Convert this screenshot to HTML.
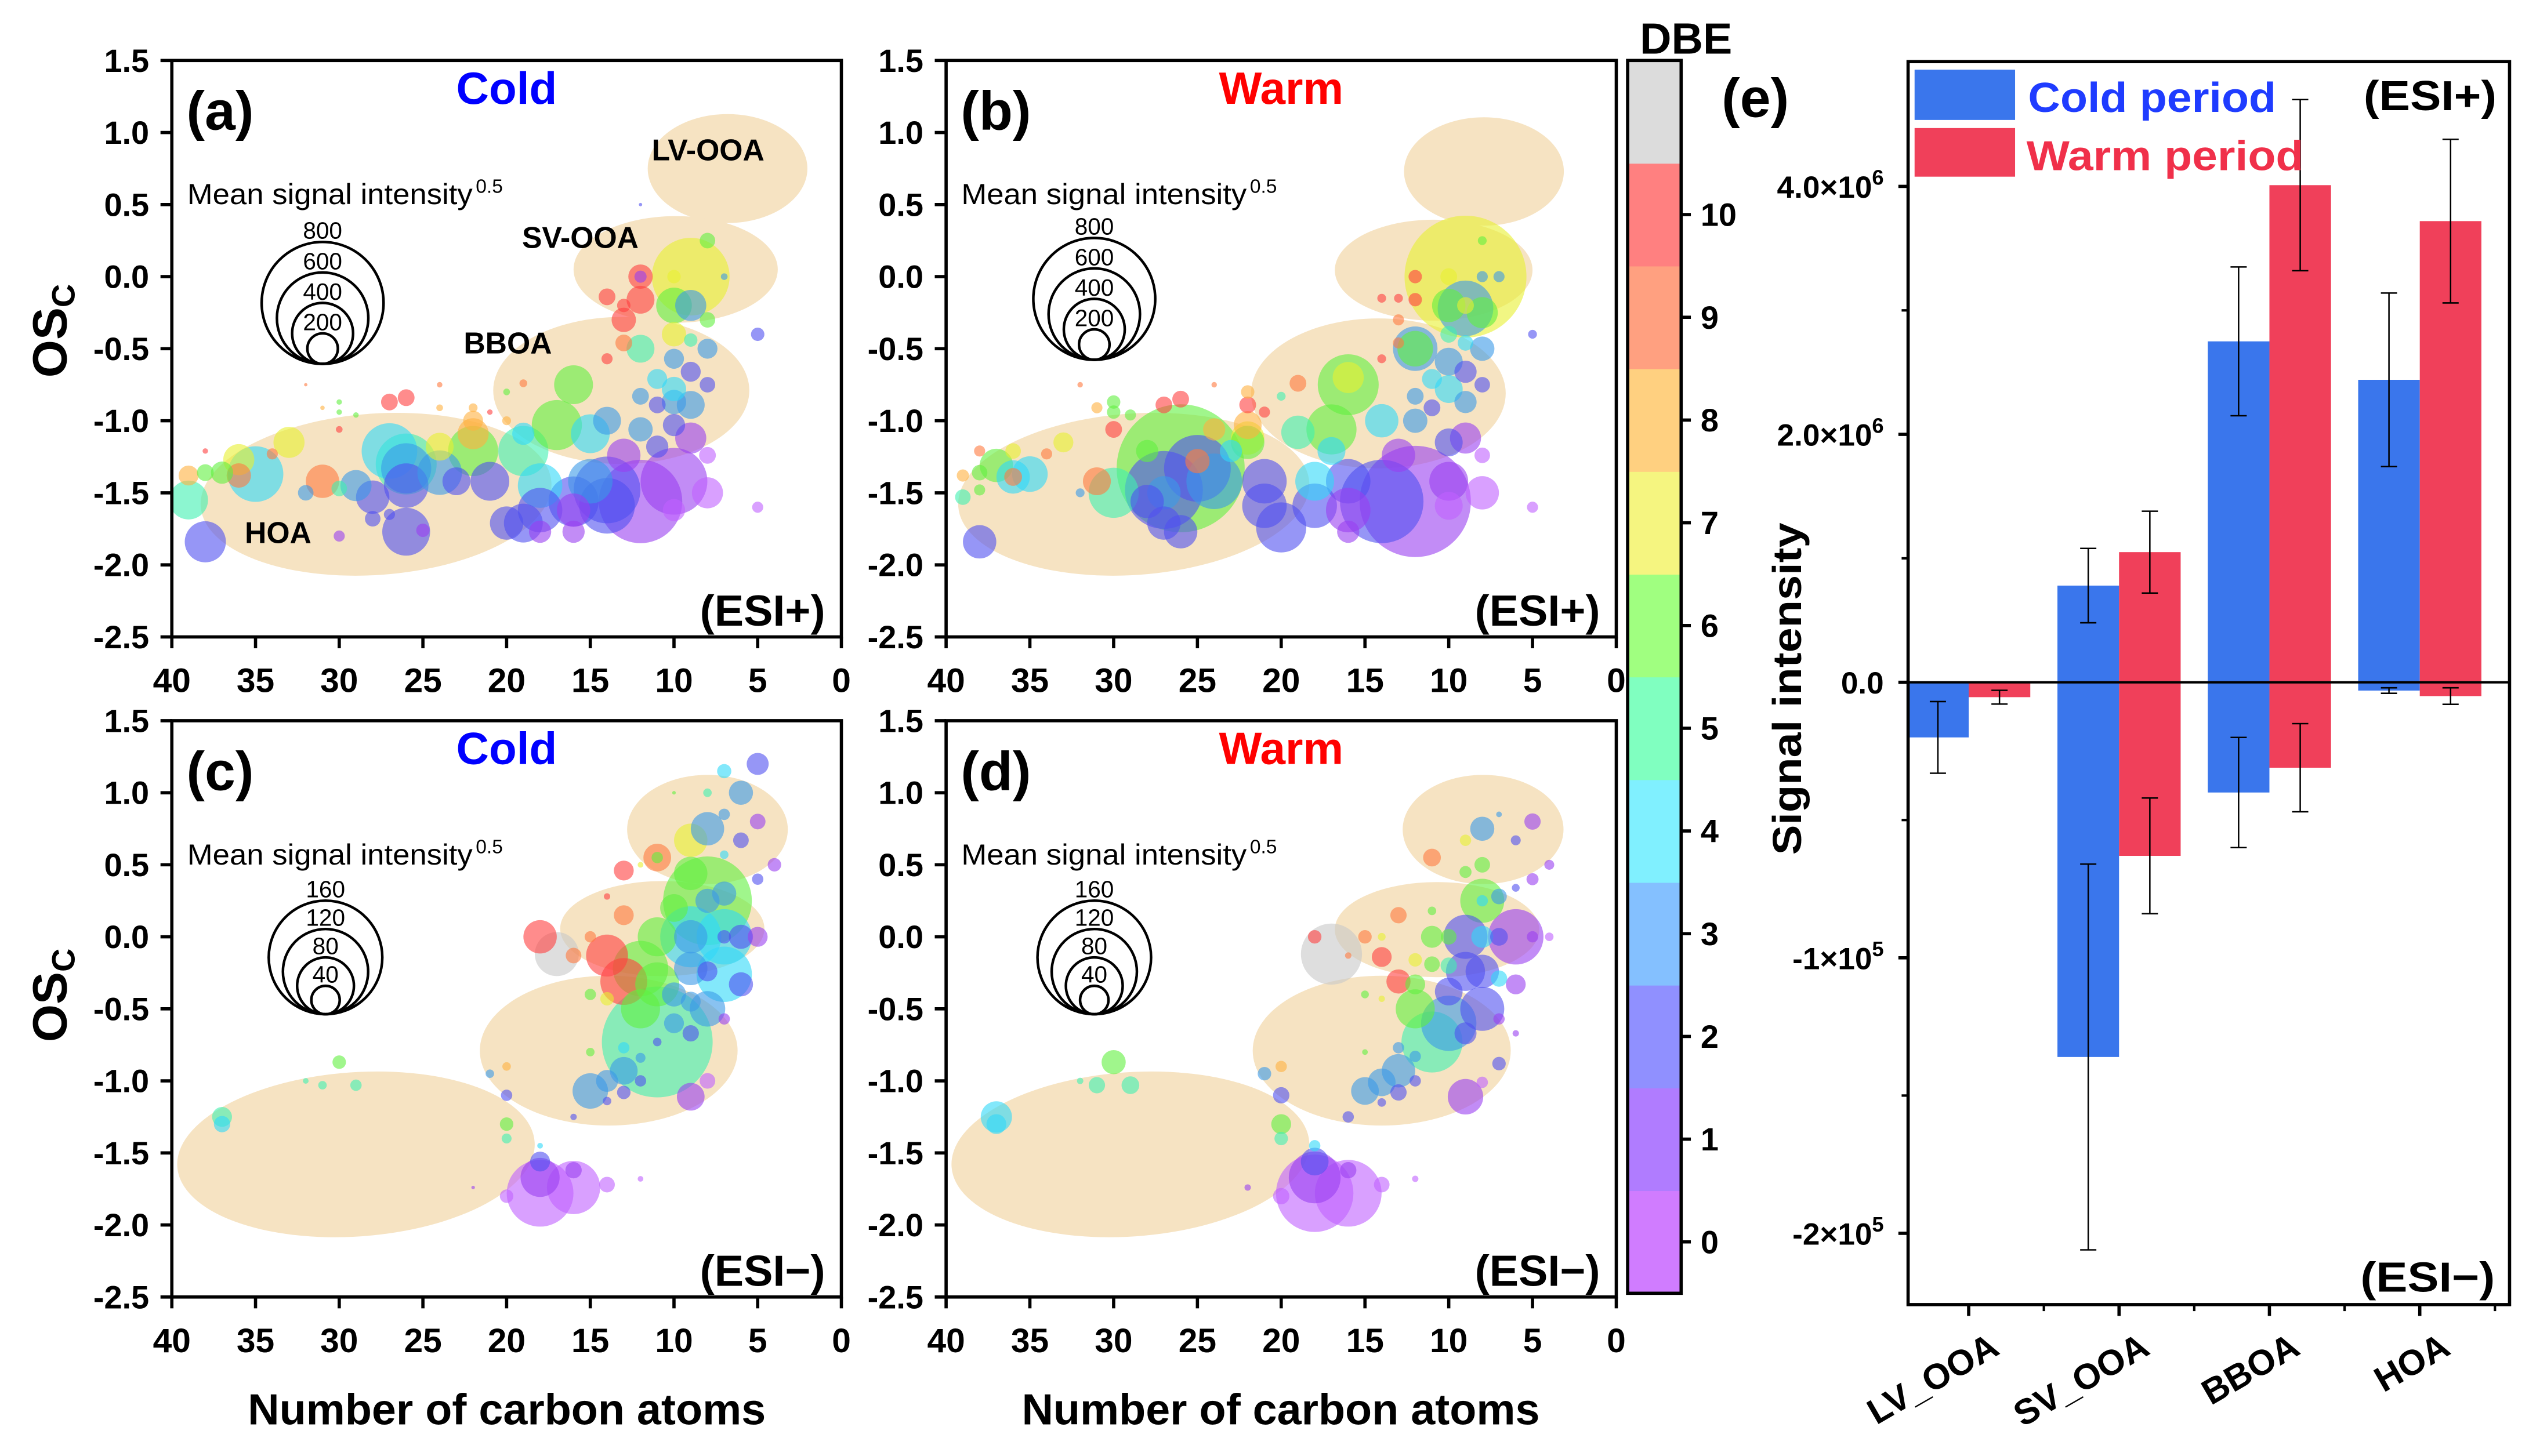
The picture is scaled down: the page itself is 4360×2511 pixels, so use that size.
<!DOCTYPE html>
<html><head><meta charset="utf-8"><title>OSc vs carbon number and factor signal intensity</title>
<style>
html,body{margin:0;padding:0;background:#fff;}
svg{display:block;font-family:"Liberation Sans",Arial,sans-serif;}
</style></head>
<body>
<svg id="fig" xmlns="http://www.w3.org/2000/svg" width="4360" height="2511" viewBox="0 0 1560 898.4">
<rect x="0" y="0" width="1560" height="898.4" fill="#fff"/>
<g id="layer"></g>
</svg>
<script>
// ---------- Panel (a) Cold ESI+ ----------
const aC  = [38,39,39,38,36,35,36,37,33,34,31,32,30,29,30,27,26,26,26,28,26,28,27,25,24,24,27,26,24,22,22,22,22,23,21,20,19,19,19,17,16,18,18,18,16,16,16,15,14,14,14,13,15,12,10,10,9,8,8,5,5,10,11,12,10,9,11,12,10,11,9,8,8,10,9,12,13,14,13,14,12,12,12,13,9,10,9,10,8,8,10,7,12,30,30,30,31,29,38,32,20,19,21,24,20];
const aOS = [-1.84,-1.55,-1.38,-1.36,-1.38,-1.37,-1.27,-1.36,-1.15,-1.23,-1.42,-1.5,-1.47,-1.45,-1.8,-1.21,-1.3,-1.33,-1.45,-1.53,-1.77,-1.68,-1.65,-1.76,-1.36,-1.18,-0.87,-0.84,-0.75,-0.91,-1.0,-1.09,-1.21,-1.42,-1.42,-1.71,-1.71,-1.09,-1.21,-1.03,-0.75,-1.45,-1.62,-1.77,-1.56,-1.62,-1.77,-1.42,-1.48,-1.59,-1.0,-1.24,-1.09,-1.56,-1.42,-1.62,-1.12,-1.5,-1.24,-0.4,-1.6,-1.03,-1.18,-1.06,-0.87,-0.89,-0.89,-0.83,-0.78,-0.71,-0.66,-0.75,-0.5,-0.57,-0.44,-0.5,-0.46,-0.57,-0.3,-0.14,-0.16,0.0,0.0,-0.2,0.0,-0.2,-0.2,-0.4,-0.3,0.25,0.0,0.0,0.5,-1.06,-0.94,-0.87,-0.91,-0.96,-1.21,-0.75,-0.8,-0.74,-0.94,-0.91,-1.0];
const aV  = [270,255,131,110,160,365,204,146,204,73,219,102,102,204,73,365,400,329,292,219,314,102,73,88,292,183,110,110,36,58,131,204,329,183,255,219,255,146,329,329,255,292,292,146,329,219,146,292,438,365,183,219,255,548,438,146,204,204,110,88,73,146,146,160,160,183,110,110,160,131,131,102,131,131,88,183,110,73,160,110,183,160,80,88,510,234,204,160,102,102,88,44,22,44,36,36,29,36,36,22,44,51,36,44,58];
const aD  = [2,5,8,6,9,4,7,6,7,9,9,3,5,3,1,4,5,3,2,2,2,2,2,1,3,7,10,10,9,8,8,8,6,2,2,2,2,4,5,6,6,4,2,1,2,1,1,3,2,2,3,1,4,1,1,0,1,0,0,2,0,2,2,3,3,3,2,3,4,4,2,2,3,3,5,5,9,10,10,10,10,10,1,10,7,6,3,7,6,6,7,3,2,10,6,6,8,6,10,9,6,9,10,8,8];
// ---------- Panel (b) Warm ESI+ ----------
const bC  = [38,39,39,38,38,38,37,36,35,36,36,34,33,31,32,30,26,27,25,28,27,28,27,26,24,25,27,26,24,22,22,22,21,24,22,22,23,21,21,20,19,18,18,17,16,16,19,17,16,16,16,14,14,13,12,12,11,12,10,10,10,9,8,8,5,5,11,10,9,8,10,9,8,12,12,13,14,13,12,13,14,12,9,9,10,8,9,10,9,10,8,7,8,30,30,30,31,29,32,20];
const bOS = [-1.84,-1.53,-1.38,-1.36,-1.48,-1.21,-1.31,-1.39,-1.37,-1.39,-1.21,-1.23,-1.15,-1.42,-1.5,-1.5,-1.33,-1.48,-1.33,-1.21,-1.5,-1.56,-1.71,-1.77,-1.42,-1.28,-0.89,-0.85,-1.06,-1.03,-0.89,-0.8,-0.94,-0.75,-1.12,-1.15,-1.21,-1.42,-1.59,-1.74,-1.08,-1.42,-1.59,-1.06,-0.75,-0.7,-0.74,-1.21,-1.42,-1.62,-1.77,-1.0,-1.56,-1.24,-1.56,-1.0,-0.91,-0.83,-1.15,-1.42,-1.59,-1.12,-1.5,-1.24,-0.4,-1.6,-0.71,-0.59,-0.66,-0.75,-0.78,-0.87,-0.5,-0.5,-0.5,-0.46,-0.57,-0.3,-0.16,-0.15,-0.15,0.0,0.0,-0.22,-0.2,-0.25,-0.2,-0.4,-0.46,0.0,0.0,0.0,0.25,-1.06,-0.87,-0.94,-0.91,-0.96,-0.75,-0.83];
const bV  = [219,102,80,102,73,73,219,219,234,117,102,73,131,183,58,329,840,511,438,146,219,219,219,219,365,160,110,110,146,183,110,88,73,36,219,219,146,292,292,329,219,255,292,329,400,204,110,183,292,292,146,219,548,219,730,160,110,110,183,255,183,204,219,102,58,73,131,183,146,102,183,146,160,292,234,73,58,73,88,58,58,88,800,365,219,204,110,110,102,110,73,73,58,110,88,88,73,73,36,58];
const bD  = [2,5,8,6,6,9,6,4,4,9,7,9,7,9,3,5,6,2,2,6,3,2,2,2,3,9,10,10,8,8,10,8,10,9,7,6,4,2,2,2,5,4,2,6,6,7,9,4,2,1,1,4,2,1,1,3,2,3,2,1,0,1,0,0,2,0,4,3,2,2,4,3,3,3,6,9,10,9,10,10,10,10,7,3,6,6,7,5,4,7,3,3,6,10,6,6,8,6,9,5];
// ---------- Panel (c) Cold ESI- ----------
const cC  = [37,37,30,32,31,29,20,21,20,20,20,18,16,18,18,16,14,20,12,22,18,18,17,16,14,13,13,13,11,11,9,8,6,7,5,8,10,7,5,6,7,4,5,11,8,9,10,11,12,11,12,9,7,7,9,9,8,8,7,6,5,7,6,10,9,8,10,9,7,13,14,15,13,12,12,11,13,8,9,14,16,15,15,14,15,14,12];
const cOS = [-1.25,-1.3,-0.87,-1.0,-1.03,-1.03,-0.9,-0.95,-1.1,-1.3,-1.4,-1.78,-1.74,-1.67,-1.56,-1.62,-1.72,-1.8,-1.68,-1.74,-1.45,0.0,-0.12,-0.13,-0.13,-0.31,0.15,0.46,0.55,0.55,0.67,0.75,1.0,1.15,1.2,1.0,1.0,0.85,0.8,0.67,0.57,0.5,0.4,-0.73,0.25,0.44,0.2,0.0,-0.22,-0.33,-0.5,0.0,0.0,-0.26,0.0,-0.22,-0.24,0.25,0.3,0.0,0.0,0.0,-0.33,-0.4,-0.45,-0.5,-0.6,-0.67,-0.57,-0.93,-1.0,-1.07,-1.08,-1.0,-0.84,-0.73,-0.77,-1.0,-1.11,-1.14,-1.25,-0.8,-0.4,-0.43,0.0,0.28,0.5];
const cV  = [28,23,19,8,12,16,12,12,16,19,14,94,75,55,28,23,22,19,8,5,8,47,62,22,59,66,28,28,39,16,47,47,34,20,31,12,5,16,22,22,12,19,16,156,125,47,39,55,78,62,55,86,78,78,47,47,28,34,34,34,28,19,34,34,28,50,28,23,16,39,31,50,19,16,14,12,16,22,39,12,9,12,16,19,16,9,8];
const cD  = [5,4,6,5,5,5,8,3,2,6,5,0,0,1,2,1,0,0,0,1,4,10,11,9,10,10,9,10,9,6,7,3,3,4,2,5,6,3,1,2,4,1,2,5,6,6,6,6,6,6,6,4,4,4,3,3,2,3,3,2,1,2,2,3,3,3,3,2,1,3,3,3,2,2,3,2,4,0,1,2,2,6,6,7,9,10,7];
// ---------- Panel (d) Warm ESI- ----------
const dC  = [37,37,30,32,31,29,20,21,20,20,20,18,16,18,18,16,14,20,12,22,18,17,18,16,15,14,13,13,11,8,5,6,7,9,8,9,5,4,6,8,7,8,6,9,11,10,8,7,5,4,9,8,10,7,6,10,8,12,10,11,9,7,6,13,14,15,13,12,12,13,14,16,7,8,9,15,14,12,11,12,15,14,11];
const dOS = [-1.25,-1.3,-0.87,-1.0,-1.03,-1.03,-0.9,-0.95,-1.1,-1.3,-1.4,-1.78,-1.78,-1.67,-1.56,-1.62,-1.72,-1.8,-1.68,-1.74,-1.45,-0.12,0.0,-0.13,0.0,-0.14,-0.31,0.15,0.55,0.75,0.8,0.67,0.85,0.67,0.5,0.45,0.4,0.5,0.34,0.25,0.28,0.25,0.0,0.0,0.0,0.0,0.0,0.0,0.0,0.0,-0.24,-0.24,-0.2,-0.29,-0.33,-0.38,-0.5,-0.5,-0.6,-0.73,-0.67,-0.57,-0.67,-0.93,-1.01,-1.07,-1.08,-1.0,-0.83,-0.77,-1.15,-1.25,-0.88,-1.01,-1.11,-0.4,-0.43,-0.16,-0.19,-0.33,-0.8,0.0,0.18];
const dV  = [44,28,34,9,23,25,16,19,23,28,19,109,94,73,39,23,22,23,9,9,16,86,19,9,19,28,34,23,25,34,23,14,8,16,22,17,17,14,11,62,22,16,78,62,31,22,31,25,16,12,55,47,23,23,28,39,62,55,78,86,31,16,9,47,39,39,23,16,16,16,12,16,19,16,50,11,9,19,22,28,8,11,12];
const dD  = [4,4,6,5,5,5,8,3,2,6,5,0,0,1,2,1,0,0,0,1,4,11,10,9,9,10,10,9,9,3,1,2,3,7,6,6,1,1,2,6,3,4,1,2,6,6,4,2,1,0,2,2,5,4,1,2,2,6,3,5,2,1,1,3,3,3,2,2,3,3,2,2,2,0,1,6,7,7,6,6,6,7,6];

// ---------- Panel (e) bar chart ----------
const eCats = ['LV_OOA','SV_OOA','BBOA','HOA'];
const coldPos = [0, 0.78e6, 2.75e6, 2.44e6];
const coldPosErr = [0, 0.30e6, 0.60e6, 0.70e6];
const warmPos = [0, 1.05e6, 4.01e6, 3.72e6];
const warmPosErr = [0, 0.33e6, 0.69e6, 0.66e6];
const coldNeg = [-0.20e5, -1.36e5, -0.40e5, -0.03e5];
const coldNegErr = [0.13e5, 0.70e5, 0.20e5, 0.01e5];
const warmNeg = [-0.054e5, -0.63e5, -0.31e5, -0.05e5];
const warmNegErr = [0.025e5, 0.21e5, 0.16e5, 0.03e5];
const posTicks = [0, 2e6, 4e6];
const posTickLabels = ['0.0','2.0\u00d710','4.0\u00d710'];
const negTicks = [-1e5, -2e5];
const negTickLabels = ['-1\u00d710','-2\u00d710'];

const dbeColors = ['#c060ff','#9a40f0','#5050f0','#3a9ae8','#30d8f8','#40f0b0','#60f040','#e8f030','#ffb040','#ff7a40','#ff4040','#c8c8c8'];
const cbarColors = ['#d07cff','#b07cff','#9090ff','#84c0ff','#80f0ff','#80ffc0','#a0ff80','#f5f580','#ffd080','#ffa080','#ff8080','#dcdcdc'];
const cbarLabels = ['0','1','2','3','4','5','6','7','8','9','10'];
const xTicks = [40,35,30,25,20,15,10,5,0];
const yTicks = [1.5,1.0,0.5,0.0,-0.5,-1.0,-1.5,-2.0,-2.5];

const NS='http://www.w3.org/2000/svg';
const layer=document.getElementById('layer');
function mk(tag, attrs, parent){
  const e=document.createElementNS(NS,tag);
  for(const k in attrs) e.setAttribute(k,attrs[k]);
  (parent||layer).appendChild(e);
  return e;
}
function txt(s, attrs, parent){const e=mk('text',attrs,parent); e.textContent=s; return e;}

const panels=[
 {id:'a', x0:106,x1:519,y0:37.3,y1:393, C:aC,OS:aOS,V:aV,D:aD, k:0.047, title:'Cold', tcol:'#0000ff', esi:'(ESI+)', leg:[800,600,400,200], legCx:199, legBy:224.5, legTx:115.5,
  ell:[[6.8,0.75,4.77,0.378,0],[9.9,0.05,6.1,0.37,0],[13.15,-0.79,7.65,0.51,0],[27.8,-1.51,10.5,0.56,-4]]},
 {id:'b', x0:583.6,x1:997,y0:37.3,y1:393, C:bC,OS:bOS,V:bV,D:bD, k:0.047, title:'Warm', tcol:'#ff0000', esi:'(ESI+)', leg:[800,600,400,200], legCx:675, legBy:222, legTx:593,
  ell:[[7.9,0.73,4.77,0.376,0],[10.9,0.045,5.9,0.35,0],[14.2,-0.81,7.6,0.52,0],[28.8,-1.51,10.5,0.56,-4]]},
 {id:'c', x0:106,x1:519,y0:444.7,y1:800.3, C:cC,OS:cOS,V:cV,D:cD, k:0.219, title:'Cold', tcol:'#0000ff', esi:'(ESI\u2212)', leg:[160,120,80,40], legCx:200.8, legBy:625.8, legTx:115.5,
  ell:[[8.0,0.745,4.8,0.379,0],[10.7,0.057,6.1,0.33,0],[13.9,-0.79,7.7,0.52,0],[29,-1.51,10.7,0.57,-4]]},
 {id:'d', x0:583.6,x1:997,y0:444.7,y1:800.3, C:dC,OS:dOS,V:dV,D:dD, k:0.219, title:'Warm', tcol:'#ff0000', esi:'(ESI\u2212)', leg:[160,120,80,40], legCx:675, legBy:625.8, legTx:593,
  ell:[[7.95,0.745,4.8,0.379,0],[10.7,0.05,6.1,0.33,0],[14.0,-0.79,7.7,0.52,0],[29,-1.51,10.7,0.57,-4]]}
];
const ellNames=['lv-ooa-region','sv-ooa-region','bboa-region','hoa-region'];

panels.forEach(p=>{
  const sx=c=>p.x0+(40-c)/40*(p.x1-p.x0);
  const sy=v=>p.y0+(1.5-v)/4*(p.y1-p.y0);
  const g=mk('g',{});
  
  
  const clipId='clip'+p.id;
  const cp=mk('clipPath',{id:clipId},g);
  mk('rect',{x:p.x0,y:p.y0,width:p.x1-p.x0,height:p.y1-p.y0},cp);
  const plot=mk('g',{'clip-path':'url(#'+clipId+')'},g);
  p.ell.forEach((e,i)=>{
    const cx=sx(e[0]), cy=sy(e[1]);
    const rx=e[2]*(p.x1-p.x0)/40, ry=e[3]*(p.y1-p.y0)/4;
    const el=mk('ellipse',{cx:cx,cy:cy,rx:rx,ry:ry,fill:'#f6e3c2',transform:'rotate('+e[4]+' '+cx+' '+cy+')'},plot);
    
    
  });
  const idx=p.C.map((_,i)=>i).sort((a,b)=>p.V[b]-p.V[a]);
  idx.forEach(i=>{
    const c=mk('circle',{cx:sx(p.C[i]),cy:sy(p.OS[i]),r:p.V[i]*p.k,fill:dbeColors[p.D[i]],'fill-opacity':0.6},plot);
    
    
  });
  const fr=mk('rect',{x:p.x0,y:p.y0,width:p.x1-p.x0,height:p.y1-p.y0,fill:'none',stroke:'#000','stroke-width':2},g);
  
  
  xTicks.forEach(t=>{
    mk('line',{x1:sx(t),x2:sx(t),y1:p.y1,y2:p.y1+7,stroke:'#000','stroke-width':2},g);
    const l=txt(String(t),{x:sx(t),y:p.y1+34,'text-anchor':'middle','font-size':21,'font-weight':'bold'},g);
    
    
  });
  yTicks.forEach(t=>{
    mk('line',{x1:p.x0-7,x2:p.x0,y1:sy(t),y2:sy(t),stroke:'#000','stroke-width':2},g);
    const l=txt(t.toFixed(1),{x:p.x0-14,y:sy(t)+7,'text-anchor':'end','font-size':20,'font-weight':'bold'},g);
    
    
  });
  const off=p.y0-37.3;
  let t=txt('('+p.id+')',{x:p.x0+9,y:80+off,'font-size':34,'font-weight':'bold'},g);
  
  
  t=txt(p.title,{x:(p.x0+p.x1)/2,y:64+off,'text-anchor':'middle','font-size':28,'font-weight':'bold',fill:p.tcol},g);
  
  
  t=txt(p.esi,{x:p.x1-10,y:386+off,'text-anchor':'end','font-size':27,'font-weight':'bold'},g);
  
  
  t=txt('Mean signal intensity',{x:p.legTx,y:126+off,'font-size':18,textLength:176,lengthAdjust:'spacingAndGlyphs'},g);
  
  
  t=txt('0.5',{x:p.legTx+178,y:119+off,'font-size':12},g);
  
  
  p.leg.forEach(v=>{
    const r=v*p.k;
    const c=mk('circle',{cx:p.legCx,cy:p.legBy-r,r:r,fill:'none',stroke:'#000','stroke-width':1.6},g);
    
    
    const l=txt(String(v),{x:p.legCx,y:p.legBy-2*r-2,'text-anchor':'middle','font-size':14.5},g);
    
    
  });
});

[['LV-OOA',402,99],['SV-OOA',322,153],['BBOA',286,218],['HOA',151,335]].forEach(r=>{
  const t=txt(r[0],{x:r[1],y:r[2],'font-size':18.5,'font-weight':'bold'});
  
  
});

[[215],[625]].forEach(a=>{
  const t=txt('OS',{x:0,y:0,'font-size':30,'font-weight':'bold',transform:'translate(41,'+(a[0]+18)+') rotate(-90)'});
  
  
  const s=mk('tspan',{dy:5,'font-size':20},t); s.textContent='C';
});
[312.6,790].forEach(cx=>{
  const t=txt('Number of carbon atoms',{x:cx,y:879,'text-anchor':'middle','font-size':27,'font-weight':'bold'});
  
  
});

(function(){
  const x=1004, w=33, top=37.3, bot=798, n=cbarColors.length, h=(bot-top)/n;
  cbarColors.forEach((col,i)=>{
    const r=mk('rect',{x:x,y:bot-(i+1)*h,width:w,height:h+0.3,fill:col});
    
    
  });
  const fr=mk('rect',{x:x,y:top,width:w,height:bot-top,fill:'none',stroke:'#000','stroke-width':2});
  
  
  cbarLabels.forEach((lab,i)=>{
    const y=bot-(i+0.5)*h;
    mk('line',{x1:x+w,x2:x+w+6,y1:y,y2:y,stroke:'#000','stroke-width':2});
    const t=txt(lab,{x:x+w+12,y:y+7,'font-size':20,'font-weight':'bold'});
    
    
  });
  const t=txt('DBE',{x:1040,y:33,'text-anchor':'middle','font-size':27,'font-weight':'bold'});
  
  
})();

(function(){
  const L=1177, R=1548, T=38, B=805, Z=421;
  const g=mk('g',{});
  
  
  const yPos=v=>Z-v*(153/2e6);
  const yNeg=v=>Z-v*(170/1e5);
  const cw=(R-L)/4;
  const cx=i=>L+cw*(i+0.5)-9;
  const bw=38;
  function bar(x,v,scale,col,name){
    if(v===0) return;
    const y=scale(v);
    const r=mk('rect',{x:x,y:Math.min(y,Z),width:bw,height:Math.abs(Z-y),fill:col},g);
    
    
  }
  function err(x,v,e,scale){
    if(e===0) return;
    const a=scale(v+e), b=scale(v-e);
    mk('line',{x1:x,x2:x,y1:a,y2:b,stroke:'#000','stroke-width':0.9},g);
    mk('line',{x1:x-5,x2:x+5,y1:a,y2:a,stroke:'#000','stroke-width':0.9},g);
    mk('line',{x1:x-5,x2:x+5,y1:b,y2:b,stroke:'#000','stroke-width':0.9},g);
  }
  eCats.forEach((c,i)=>{
    const x=cx(i);
    bar(x-bw,coldPos[i],yPos,'#3a76ec','bar-cold-esi-pos-'+c.toLowerCase());
    bar(x,warmPos[i],yPos,'#f0405a','bar-warm-esi-pos-'+c.toLowerCase());
    bar(x-bw,coldNeg[i],yNeg,'#3a76ec','bar-cold-esi-neg-'+c.toLowerCase());
    bar(x,warmNeg[i],yNeg,'#f0405a','bar-warm-esi-neg-'+c.toLowerCase());
  });
  eCats.forEach((c,i)=>{
    const x=cx(i);
    err(x-bw/2,coldPos[i],coldPosErr[i],yPos);
    err(x+bw/2,warmPos[i],warmPosErr[i],yPos);
    err(x-bw/2,coldNeg[i],coldNegErr[i],yNeg);
    err(x+bw/2,warmNeg[i],warmNegErr[i],yNeg);
  });
  mk('line',{x1:L,x2:R,y1:Z,y2:Z,stroke:'#000','stroke-width':1.5},g);
  const fr=mk('rect',{x:L,y:T,width:R-L,height:B-T,fill:'none',stroke:'#000','stroke-width':2},g);
  
  
  posTicks.forEach((v,i)=>{
    const y=yPos(v);
    mk('line',{x1:L-6,x2:L,y1:y,y2:y,stroke:'#000','stroke-width':2},g);
    const t=txt(posTickLabels[i],{x:L-15,y:y+7,'text-anchor':'end','font-size':19,'font-weight':'bold'},g);
    
    
    if(v!==0){const s=mk('tspan',{dy:-8,'font-size':13},t); s.textContent='6';}
  });
  [1e6,3e6].forEach(v=>mk('line',{x1:L-4,x2:L,y1:yPos(v),y2:yPos(v),stroke:'#000','stroke-width':1.5},g));
  negTicks.forEach((v,i)=>{
    const y=yNeg(v);
    mk('line',{x1:L-6,x2:L,y1:y,y2:y,stroke:'#000','stroke-width':2},g);
    const t=txt(negTickLabels[i],{x:L-15,y:y+7,'text-anchor':'end','font-size':19,'font-weight':'bold'},g);
    
    
    const s=mk('tspan',{dy:-8,'font-size':13},t); s.textContent='5';
  });
  [-0.5e5,-1.5e5].forEach(v=>mk('line',{x1:L-4,x2:L,y1:yNeg(v),y2:yNeg(v),stroke:'#000','stroke-width':1.5},g));
  eCats.forEach((c,i)=>{
    const x=cx(i);
    mk('line',{x1:x,x2:x,y1:B,y2:B+7,stroke:'#000','stroke-width':2},g);
    mk('line',{x1:L+cw*(i+1)-9,x2:L+cw*(i+1)-9,y1:B,y2:B+4,stroke:'#000','stroke-width':1.5},g);
    const t=txt(c,{x:0,y:0,'text-anchor':'end','font-size':22,'font-weight':'bold',transform:'translate('+(x+20)+',835) rotate(-30)'},g);
    
    
  });
  let t=txt('Signal intensity',{x:0,y:0,'text-anchor':'middle','font-size':25,'font-weight':'bold',textLength:205,lengthAdjust:'spacingAndGlyphs',transform:'translate(1111,425) rotate(-90)'},g);
  
  
  t=txt('(e)',{x:1062,y:72,'font-size':34,'font-weight':'bold'},g);
  
  
  t=txt('(ESI+)',{x:1458,y:68,'font-size':26,'font-weight':'bold',textLength:82,lengthAdjust:'spacingAndGlyphs'},g);
  
  
  t=txt('(ESI\u2212)',{x:1456,y:797,'font-size':26,'font-weight':'bold',textLength:83,lengthAdjust:'spacingAndGlyphs'},g);
  
  
  let r=mk('rect',{x:1181,y:43,width:62,height:31,fill:'#3a76ec'},g);
  
  
  r=mk('rect',{x:1181,y:79,width:62,height:30,fill:'#f0405a'},g);
  
  
  t=txt('Cold period',{x:1251,y:69,'font-size':26,'font-weight':'bold',fill:'#1f3cff',textLength:153,lengthAdjust:'spacingAndGlyphs'},g);
  
  
  t=txt('Warm period',{x:1250,y:105,'font-size':26,'font-weight':'bold',fill:'#f0304a',textLength:171,lengthAdjust:'spacingAndGlyphs'},g);
  
  
})();
</script>
</body></html>
